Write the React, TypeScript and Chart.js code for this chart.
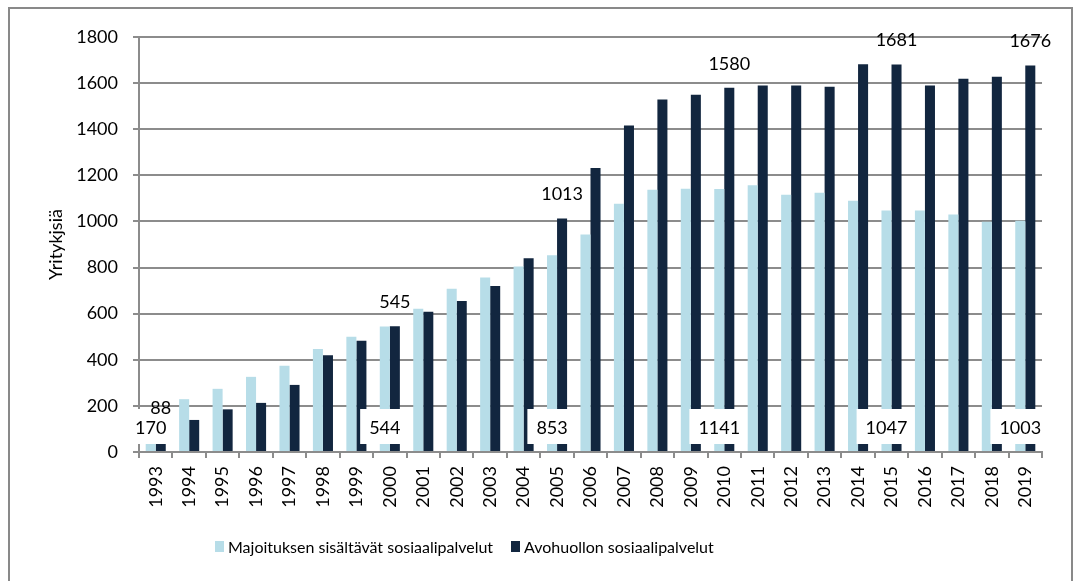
import React, { useEffect, useRef } from "react";
import { Chart, registerables } from "chart.js";

Chart.register(...registerables);

const years = [
  "1993", "1994", "1995", "1996", "1997", "1998", "1999", "2000", "2001", "2002",
  "2003", "2004", "2005", "2006", "2007", "2008", "2009", "2010", "2011", "2012",
  "2013", "2014", "2015", "2016", "2017", "2018", "2019",
];
const majoitus = [
  170, 229, 274, 326, 374, 447, 500, 544, 621, 708,
  757, 805, 853, 943, 1077, 1138, 1142, 1141, 1157, 1116,
  1125, 1090, 1047, 1048, 1030, 999, 1003,
];
const avohuolto = [
  88, 139, 185, 213, 291, 420, 482, 545, 608, 655,
  720, 840, 1013, 1232, 1416, 1529, 1549, 1580, 1590, 1590,
  1584, 1682, 1681, 1590, 1619, 1628, 1676,
];
const labelledIndices = [0, 7, 12, 17, 22, 26];
const seriesNames = ["Majoituksen sisältävät sosiaalipalvelut", "Avohuollon sosiaalipalvelut"];
const yTicks = { min: 0, max: 1800, step: 200 };
const yTitle = "Yritykjsiä";

const LIGHT = "#b7dde8";
const DARK = "#12263f";
const GRID = "#8c8c8c";
const FONT_FAMILY = "Lato, 'Open Sans', sans-serif";

const labelPlugin = {
  id: "valueLabels",
  afterDatasetsDraw(chart: any) {
    const ctx = chart.ctx;
    const m0 = chart.getDatasetMeta(0);
    const m1 = chart.getDatasetMeta(1);
    const y0 = chart.scales.y.getPixelForValue(0);
    ctx.save();
    ctx.font = `18px ${FONT_FAMILY}`;
    ctx.textAlign = "center";
    ctx.textBaseline = "middle";
    labelledIndices.forEach((i) => {
      const bar = m0.data[i];
      const t = String(majoitus[i]);
      const w = ctx.measureText(t).width;
      const cy = y0 - 24;
      ctx.fillStyle = "#ffffff";
      ctx.fillRect(bar.x - w / 2 - 9, cy - 19, w + 16, 35);
      ctx.fillStyle = "#000000";
      ctx.fillText(t, bar.x, cy);
    });
    ctx.fillStyle = "#000000";
    labelledIndices.forEach((i) => {
      const bar = m1.data[i];
      ctx.fillText(String(avohuolto[i]), bar.x, bar.y - 24);
    });
    ctx.restore();
  },
};

const legendPlugin = {
  id: "customLegend",
  afterDraw(chart: any) {
    const ctx = chart.ctx;
    const items = [
      { x: 215, color: LIGHT, text: seriesNames[0] },
      { x: 511, color: DARK, text: seriesNames[1] },
    ];
    ctx.save();
    ctx.font = `16px ${FONT_FAMILY}`;
    ctx.textAlign = "left";
    ctx.textBaseline = "alphabetic";
    items.forEach((it) => {
      ctx.fillStyle = it.color;
      ctx.fillRect(it.x, 541, 9, 11);
      ctx.fillStyle = "#000000";
      ctx.fillText(it.text, it.x + 13, 553);
    });
    ctx.restore();
  },
};

export default function App() {
  const canvasRef = useRef<HTMLCanvasElement | null>(null);

  useEffect(() => {
    const canvas = canvasRef.current;
    if (!canvas) return;
    const chart = new Chart(canvas, {
      type: "bar",
      data: {
        labels: years,
        datasets: [
          { label: seriesNames[0], data: majoitus, backgroundColor: LIGHT, borderWidth: 0 },
          { label: seriesNames[1], data: avohuolto, backgroundColor: DARK, borderWidth: 0 },
        ],
      },
      options: {
        animation: false,
        responsive: false,
        maintainAspectRatio: false,
        events: [],
        layout: { padding: { left: 0, top: 37, right: 32, bottom: 0 } },
        datasets: { bar: { barPercentage: 1, categoryPercentage: 0.6 } },
        plugins: {
          legend: { display: false },
          tooltip: { enabled: false },
          title: { display: false },
        },
        scales: {
          x: {
            offset: true,
            afterFit: (scale: any) => {
              scale.height = 129;
            },
            grid: {
              offset: true,
              drawOnChartArea: false,
              drawTicks: true,
              tickLength: 6,
              color: GRID,
              lineWidth: 2,
            },
            border: { display: true, color: GRID, width: 2 },
            ticks: {
              minRotation: 90,
              maxRotation: 90,
              autoSkip: false,
              padding: 8,
              color: "#000000",
              font: { family: FONT_FAMILY, size: 18 },
            },
          },
          y: {
            min: yTicks.min,
            max: yTicks.max,
            afterFit: (scale: any) => {
              scale.width = 139;
            },
            grid: {
              color: GRID,
              lineWidth: 2,
              drawTicks: true,
              tickLength: 6,
            },
            border: { display: true, color: GRID, width: 2 },
            ticks: {
              stepSize: yTicks.step,
              padding: 15,
              color: "#000000",
              font: { family: FONT_FAMILY, size: 18 },
              callback: (v: any) => String(v),
            },
            title: {
              display: true,
              text: yTitle,
              color: "#000000",
              font: { family: FONT_FAMILY, size: 18 },
              padding: { top: 45, bottom: 0 },
            },
          },
        },
      },
      plugins: [labelPlugin, legendPlugin],
    });
    return () => chart.destroy();
  }, []);

  return (
    <div
      style={{
        position: "fixed",
        left: 0,
        top: 0,
        width: 1074,
        height: 581,
        overflow: "hidden",
        background: "#ffffff",
      }}
    >
      <div
        style={{
          position: "absolute",
          left: 8,
          top: 7,
          width: 1061,
          height: 620,
          border: "2px solid #898989",
        }}
      />
      <canvas
        ref={canvasRef}
        width={1074}
        height={581}
        style={{ position: "absolute", left: 0, top: 0, width: 1074, height: 581 }}
      />
    </div>
  );
}
